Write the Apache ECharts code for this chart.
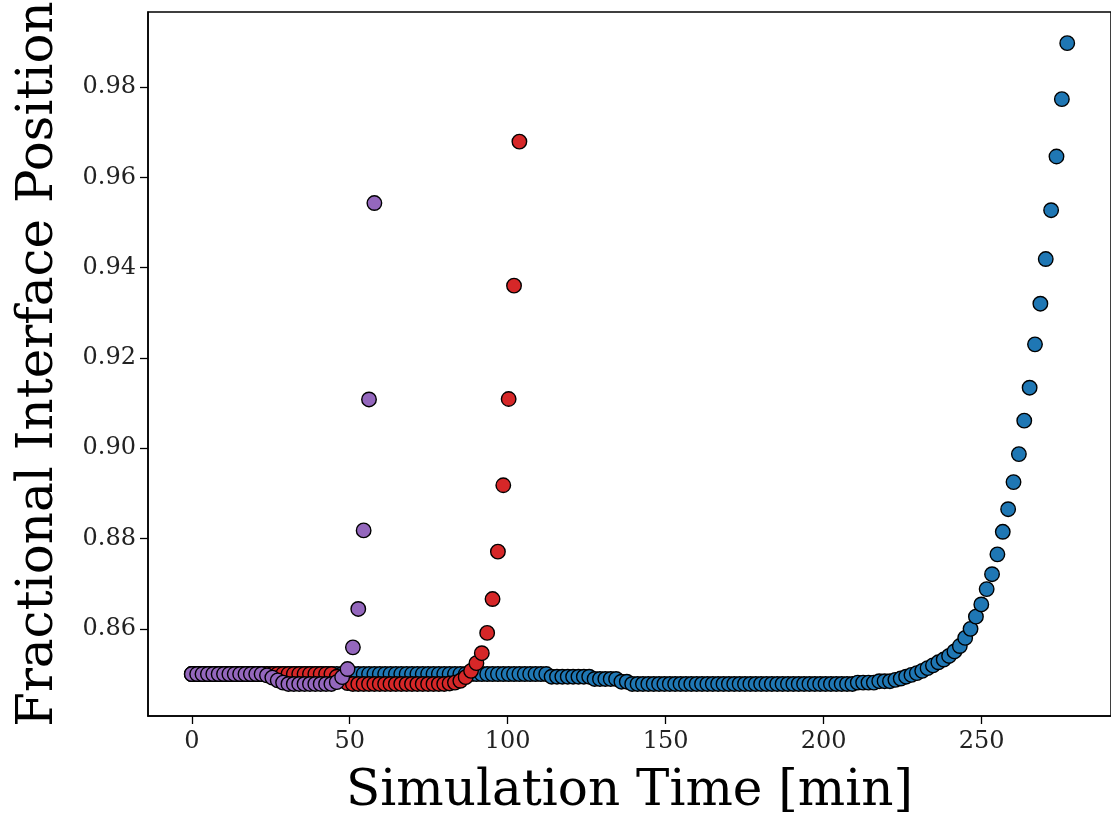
<!DOCTYPE html>
<html>
<head>
<meta charset="utf-8">
<script src="https://cdn.jsdelivr.net/npm/echarts@6/dist/echarts.min.js"></script>
<style>
html,body{margin:0;padding:0;background:#fff;}
#chart{width:1111px;height:822px;}
</style>
</head>
<body>
<div id="chart"></div>
<script>
// Sample times (min)
const timeMin = [
0,1.7,3.4,5.1,6.8,8.5,10.2,11.9,13.6,15.3,
17,18.7,20.4,22.1,23.8,25.5,27.2,28.9,30.6,32.3,
34,35.7,37.4,39.1,40.8,42.5,44.2,45.9,47.6,49.3,
51,52.7,54.4,56.1,57.8,59.5,61.2,62.9,64.6,66.3,
68,69.7,71.4,73.1,74.8,76.5,78.2,79.9,81.6,83.3,
85,86.7,88.4,90.1,91.8,93.5,95.2,96.9,98.6,100.3,
102,103.7,105.4,107.1,108.8,110.5,112.2,113.9,115.6,117.3,
119,120.7,122.4,124.1,125.8,127.5,129.2,130.9,132.6,134.3,
136,137.7,139.4,141.1,142.8,144.5,146.2,147.9,149.6,151.3,
153,154.7,156.4,158.1,159.8,161.5,163.2,164.9,166.6,168.3,
170,171.7,173.4,175.1,176.8,178.5,180.2,181.9,183.6,185.3,
187,188.7,190.4,192.1,193.8,195.5,197.2,198.9,200.6,202.3,
204,205.7,207.4,209.1,210.8,212.5,214.2,215.9,217.6,219.3,
221,222.7,224.4,226.1,227.8,229.5,231.2,232.9,234.6,236.3,
238,239.7,241.4,243.1,244.8,246.5,248.2,249.9,251.6,253.3,
255,256.7,258.4,260.1,261.8,263.5,265.2,266.9,268.6,270.3,
272,273.7,275.4,277.1
];

// Fractional interface position, blue run (164 samples)
const bluePos = [
0.8500,0.8500,0.8500,0.8500,0.8500,0.8500,0.8500,0.8500,0.8500,0.8500,
0.8500,0.8500,0.8500,0.8500,0.8500,0.8500,0.8500,0.8500,0.8500,0.8500,
0.8500,0.8500,0.8500,0.8500,0.8500,0.8500,0.8500,0.8500,0.8500,0.8500,
0.8500,0.8500,0.8500,0.8500,0.8500,0.8500,0.8500,0.8500,0.8500,0.8500,
0.8500,0.8500,0.8500,0.8500,0.8500,0.8500,0.8500,0.8500,0.8500,0.8500,
0.8500,0.8500,0.8500,0.8500,0.8500,0.8500,0.8500,0.8500,0.8500,0.8500,
0.8500,0.8500,0.8500,0.8500,0.8500,0.8500,0.8500,
0.8494,0.8494,0.8494,0.8494,0.8494,0.8494,0.8494,0.8494,
0.8489,0.8489,0.8489,0.8489,0.8489,
0.8483,0.8483,
0.8478,0.8478,0.8478,0.8478,0.8478,0.8478,0.8478,0.8478,0.8478,0.8478,
0.8478,0.8478,0.8478,0.8478,0.8478,0.8478,0.8478,0.8478,0.8478,0.8478,
0.8478,0.8478,0.8478,0.8478,0.8478,0.8478,0.8478,0.8478,0.8478,0.8478,
0.8478,0.8478,0.8478,0.8478,0.8478,0.8478,0.8478,0.8478,0.8478,0.8478,
0.8478,0.8478,
0.8481,0.8481,0.8481,0.8481,
0.8484,0.8484,0.8484,
0.8487,0.8490,0.8494,0.8498,0.8502,0.8507,0.8513,0.8519,0.8526,0.8532,
0.8540,0.8550,0.8562,0.8580,0.8600,0.8627,0.8654,0.8688,0.8721,0.8765,
0.8815,0.8865,0.8925,0.8987,0.9061,0.9134,0.9230,0.9320,0.9419,0.9527,
0.9646,0.9773,0.9897
];

// Red run (62 samples)
const redPos = [
0.8500,0.8500,0.8500,0.8500,0.8500,0.8500,0.8500,0.8500,0.8500,0.8500,
0.8500,0.8500,0.8500,0.8500,0.8500,0.8500,0.8500,0.8500,0.8500,0.8500,
0.8500,0.8500,0.8500,0.8500,0.8500,0.8500,0.8500,
0.8494,0.8486,0.8480,
0.8478,0.8478,0.8478,0.8478,0.8478,0.8478,0.8478,0.8478,0.8478,0.8478,
0.8478,0.8478,0.8478,0.8478,0.8478,0.8478,0.8478,0.8478,
0.8479,0.8481,0.8485,0.8493,0.8507,0.8524,0.8546,0.8591,0.8666,0.8771,
0.8918,0.9109,0.9360,0.9679
];

// Purple run (35 samples)
const purplePos = [
0.8500,0.8500,0.8500,0.8500,0.8500,0.8500,0.8500,0.8500,0.8500,0.8500,
0.8500,0.8500,0.8500,0.8500,
0.8497,0.8492,0.8486,0.8481,
0.8478,0.8478,0.8478,0.8478,0.8478,0.8478,0.8478,0.8478,0.8478,
0.8482,0.8493,0.8511,0.8559,0.8644,0.8818,0.9108,0.9543
];

const xTicks = [0, 50, 100, 150, 200, 250];
const yTicks = [0.86, 0.88, 0.90, 0.92, 0.94, 0.96, 0.98];
const xTitle = 'Simulation Time [min]';
const yTitle = 'Fractional Interface Position';

function pairs(vals) {
  return vals.map((v, i) => [timeMin[i], v]);
}

const FONT = 'DejaVu Serif';
const chart = echarts.init(document.getElementById('chart'), null, {renderer: 'canvas'});

function mkSeries(name, vals, color) {
  return {
    name: name,
    type: 'scatter',
    data: pairs(vals),
    symbol: 'circle',
    symbolSize: 14.5,
    itemStyle: {color: color, borderColor: '#000', borderWidth: 1.4, opacity: 1},
    emphasis: {disabled: true},
    animation: false
  };
}

chart.setOption({
  animation: false,
  backgroundColor: '#fff',
  grid: {show: true, left: 148, top: 12, width: 972, height: 709, containLabel: false,
    borderColor: '#000', borderWidth: 1.5, backgroundColor: 'transparent'},
  xAxis: {
    type: 'value',
    min: -13.855,
    max: 290.955,
    name: xTitle,
    nameLocation: 'middle',
    nameGap: 51,
    nameTextStyle: {fontFamily: FONT, fontSize: 50, color: '#000'},
    axisLine: {show: true, onZero: false, lineStyle: {color: '#000', width: 1.5}},
    axisTick: {show: true, inside: false, length: 8, customValues: xTicks, lineStyle: {color: '#000', width: 1.3}},
    axisLabel: {customValues: xTicks, margin: 14, fontFamily: FONT, fontSize: 24, color: '#222'},
    splitLine: {show: false}
  },
  yAxis: {
    type: 'value',
    min: 0.8407,
    max: 0.9966,
    name: yTitle,
    nameLocation: 'middle',
    nameGap: 84,
    nameTextStyle: {fontFamily: FONT, fontSize: 50, color: '#000'},
    axisLine: {show: true, onZero: false, lineStyle: {color: '#000', width: 1.5}},
    axisTick: {show: true, inside: false, length: 8, customValues: yTicks, lineStyle: {color: '#000', width: 1.3}},
    axisLabel: {customValues: yTicks, margin: 12, fontFamily: FONT, fontSize: 24, color: '#222',
      formatter: v => v.toFixed(2)},
    splitLine: {show: false}
  },
  series: [
    mkSeries('blue', bluePos, '#1f77b4'),
    mkSeries('red', redPos, '#d62728'),
    mkSeries('purple', purplePos, '#9467bd')
  ]
});
</script>
</body>
</html>
